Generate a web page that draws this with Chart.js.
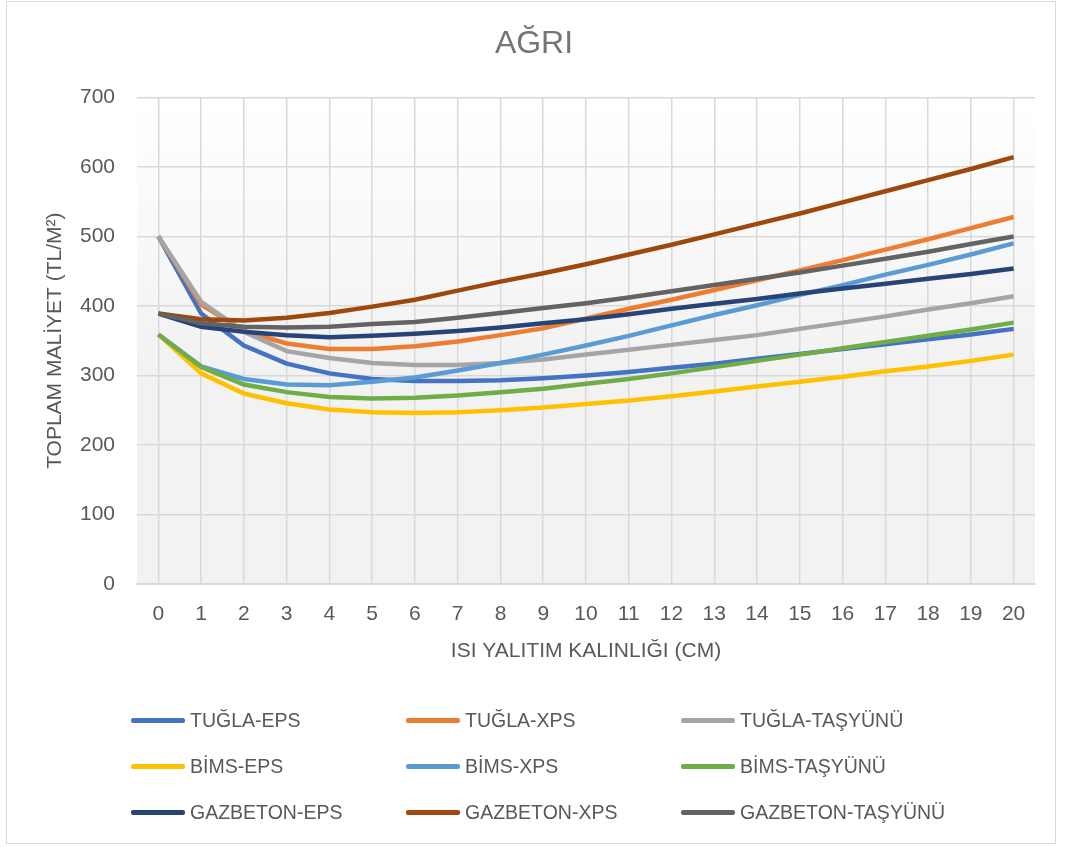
<!DOCTYPE html>
<html lang="tr">
<head>
<meta charset="UTF-8">
<title>AĞRI</title>
<script src="https://cdn.jsdelivr.net/npm/chart.js@4.4.0/dist/chart.umd.min.js"></script>
<style>
  html, body { margin: 0; padding: 0; background: #fff; }
  #wrap { position: relative; width: 1066px; height: 847px; overflow: hidden; }
  #frame { position: absolute; left: 6px; top: 1px; width: 1050px; height: 843px; border: 1px solid #d9d9d9; box-sizing: border-box; }
  #grafik { position: absolute; left: 0; top: 0; }
  #legend { position: absolute; left: 131px; top: 705px; font-family: "Liberation Sans", Arial, sans-serif; font-size: 19.5px; color: #595959; }
  .item { position: absolute; white-space: nowrap; height: 30px; line-height: 30px; }
  .item span.line { display: inline-block; width: 54px; height: 5px; border-radius: 2px; vertical-align: middle; margin-right: 5px; position: relative; top: -1px; }
</style>
</head>
<body>
<div id="wrap">
  <div id="frame"></div>
  <canvas id="grafik" width="1066" height="847"></canvas>
  <div id="legend"></div>
</div>
<script>
// yalıtım kalınlığı (cm)
const kalinlik = ['0','1','2','3','4','5','6','7','8','9','10','11','12','13','14','15','16','17','18','19','20'];

const seriAdlari = ['TUĞLA-EPS', 'TUĞLA-XPS', 'TUĞLA-TAŞYÜNÜ', 'BİMS-EPS', 'BİMS-XPS', 'BİMS-TAŞYÜNÜ', 'GAZBETON-EPS', 'GAZBETON-XPS', 'GAZBETON-TAŞYÜNÜ'];
const renkler = ['#4472C4', '#ED7D31', '#A5A5A5', '#FFC000', '#5B9BD5', '#70AD47', '#264478', '#9E480E', '#636363'];

// toplam maliyet (TL/m²)
const tuglaEps     = [500, 389, 343, 317, 303, 295, 292, 292, 293, 296, 300, 305, 311, 317, 324, 331, 338, 345, 352, 359, 367];
const tuglaXps     = [500, 402, 364, 346, 338, 338, 342, 349, 358, 368, 382, 396, 409, 423, 437, 451, 466, 481, 496, 512, 528];
const tuglaTas     = [500, 406, 363, 335, 325, 318, 315, 315, 318, 323, 330, 337, 344, 351, 358, 367, 376, 385, 395, 404, 414];
const bimsEps      = [359, 303, 274, 260, 251, 247, 246, 247, 250, 254, 259, 264, 270, 277, 284, 291, 298, 306, 313, 321, 330];
const bimsXps      = [359, 313, 295, 287, 286, 291, 297, 307, 318, 330, 343, 357, 372, 387, 401, 416, 430, 445, 459, 474, 490];
const bimsTas      = [359, 312, 287, 276, 269, 267, 268, 271, 276, 281, 288, 295, 303, 312, 321, 330, 339, 348, 357, 366, 376];
const gazbetonEps  = [389, 370, 363, 358, 355, 357, 360, 364, 369, 375, 381, 388, 396, 403, 410, 418, 425, 432, 439, 446, 454];
const gazbetonXps  = [389, 381, 379, 383, 390, 399, 409, 422, 435, 447, 460, 474, 488, 503, 518, 533, 549, 565, 581, 597, 614];
const gazbetonTas  = [389, 375, 370, 369, 370, 374, 377, 383, 390, 397, 404, 412, 421, 430, 439, 448, 458, 468, 478, 489, 500];

const seriler = [tuglaEps, tuglaXps, tuglaTas, bimsEps, bimsXps, bimsTas, gazbetonEps, gazbetonXps, gazbetonTas];

const yaziTipi = '"Liberation Sans", Arial, sans-serif';
const yaziRengi = '#595959';

// çizim alanı arka planı: üstte beyaz, aşağı doğru açık gri
const arkaPlan = {
  id: 'arkaPlan',
  beforeDraw(chart) {
    const a = chart.chartArea;
    const ctx = chart.ctx;
    const g = ctx.createLinearGradient(0, a.top, 0, a.bottom);
    g.addColorStop(0, '#ffffff');
    g.addColorStop(0.55, '#f2f2f2');
    g.addColorStop(1, '#f2f2f2');
    ctx.save();
    ctx.fillStyle = g;
    ctx.fillRect(a.left, a.top, a.right - a.left, a.bottom - a.top);
    ctx.restore();
  }
};

const chart = new Chart(document.getElementById('grafik'), {
  type: 'line',
  data: {
    labels: kalinlik,
    datasets: seriler.map((veri, i) => ({
      label: seriAdlari[i],
      data: veri,
      borderColor: renkler[i],
      backgroundColor: renkler[i],
      borderWidth: 4.5,
      pointRadius: 0,
      tension: 0,
      fill: false,
      order: 9 - i
    }))
  },
  options: {
    responsive: false,
    animation: false,
    layout: { padding: { left: 33, right: 31, top: 0, bottom: 163 } },
    plugins: {
      legend: { display: false },
      tooltip: { enabled: false },
      title: {
        display: true,
        text: 'AĞRI',
        color: '#757575',
        font: { family: yaziTipi, size: 32, weight: 'normal' },
        padding: { top: 25, bottom: 34 }
      }
    },
    scales: {
      x: {
        offset: true,
        grid: { offset: false, color: '#d9d9d9', lineWidth: 1.5, drawTicks: false },
        border: { color: '#d9d9d9', width: 2 },
        ticks: { color: yaziRengi, font: { family: yaziTipi, size: 21 }, padding: 18, maxRotation: 0, autoSkip: false },
        title: {
          display: true,
          text: 'ISI YALITIM KALINLIĞI (CM)',
          color: yaziRengi,
          font: { family: yaziTipi, size: 21 },
          padding: { top: 4, bottom: 20 }
        },
        afterFit(scale) { scale.height = 100; }
      },
      y: {
        min: 0,
        max: 700,
        ticks: { stepSize: 100, color: yaziRengi, font: { family: yaziTipi, size: 21 }, padding: 22 },
        grid: { color: '#d9d9d9', lineWidth: 1.5, drawTicks: false },
        border: { display: false },
        title: {
          display: true,
          text: 'TOPLAM MALİYET (TL/M²)',
          color: yaziRengi,
          font: { family: yaziTipi, size: 21 },
          padding: { top: 10, bottom: 4 }
        },
        afterFit(scale) { scale.width = 104; }
      }
    }
  },
  plugins: [arkaPlan]
});

// açıklama: 3 sütun
const legend = document.getElementById('legend');
chart.data.datasets.forEach((ds, i) => {
  const el = document.createElement('div');
  el.className = 'item';
  el.style.left = (i % 3) * 275 + 'px';
  el.style.top = Math.floor(i / 3) * 46 + 'px';
  el.innerHTML = '<span class="line" style="background:' + ds.borderColor + '"></span>' + ds.label;
  legend.appendChild(el);
});
</script>
</body>
</html>
